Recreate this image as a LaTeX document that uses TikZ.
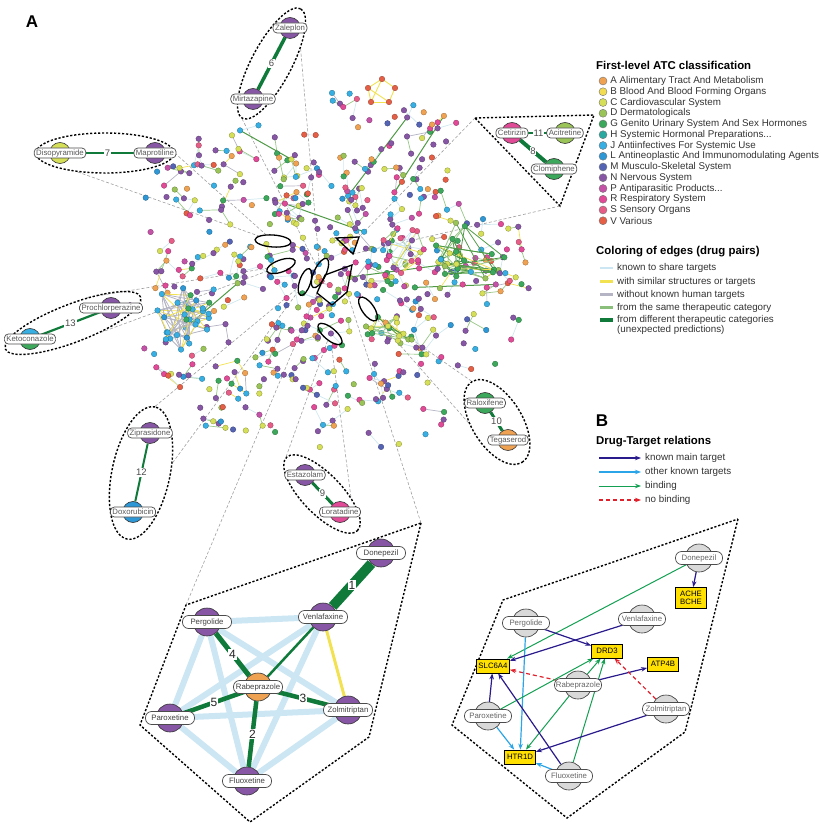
\documentclass[tikz,border=0pt]{standalone}
\usepackage{fontspec}
\setmainfont{Liberation Sans}
\usetikzlibrary{shapes.geometric, arrows.meta, positioning}

% ATC classes
\definecolor{atcA}{HTML}{F0A253}
\definecolor{atcB}{HTML}{F2DC52}
\definecolor{atcC}{HTML}{D6DF58}
\definecolor{atcD}{HTML}{9AC457}
\definecolor{atcG}{HTML}{3CA85B}
\definecolor{atcH}{HTML}{2AA9A1}
\definecolor{atcJ}{HTML}{38AFE2}
\definecolor{atcL}{HTML}{2E98D6}
\definecolor{atcM}{HTML}{5563B5}
\definecolor{atcN}{HTML}{8757A6}
\definecolor{atcP}{HTML}{C453A8}
\definecolor{atcR}{HTML}{E14A97}
\definecolor{atcS}{HTML}{E65E88}
\definecolor{atcV}{HTML}{E55E46}
% edges of drug pairs
\definecolor{ecyan}{HTML}{CFE8EE}
\definecolor{eshare}{HTML}{CCE6F3}
\definecolor{eyellow}{HTML}{F2E150}
\definecolor{egray}{HTML}{B4B4C4}
\definecolor{egreen}{HTML}{98C887}
\definecolor{edkgreen}{HTML}{4F9A45}
\definecolor{pairgreen}{HTML}{0F7A3A}
% drug-target relations
\definecolor{knavy}{HTML}{2A1B8C}
\definecolor{kblue}{HTML}{2BA5E8}
\definecolor{kgreen}{HTML}{13A052}
\definecolor{kred}{HTML}{E0202B}
\definecolor{tgold}{HTML}{FFE000}
\definecolor{dgray}{HTML}{D9D9D9}

\pgfdeclarelayer{bg}
\pgfsetlayers{bg,main}

\tikzset{
    panel/.style={font=\bfseries\fontsize{17}{17}\selectfont, inner sep=0pt},
    netdot/.style={fill=#1, draw=#1!65!black, line width=0.3pt},
    cdrug/.style={circle, draw=black!80, line width=0.6pt, minimum size=21pt, inner sep=0pt, fill=#1},
    idrug/.style={circle, draw=black!80, line width=0.6pt, minimum size=28pt, inner sep=0pt, fill=#1},
    cpill/.style={rounded corners=4pt, draw=black!70, fill=white, line width=0.7pt,
        font=\fontsize{7.8}{8}\selectfont, text=black!65, inner xsep=2pt, inner ysep=0pt, minimum height=10pt},
    ipill/.style={cpill, rounded corners=6pt, minimum width=49pt, inner xsep=1pt, minimum height=13pt, text=black!75},
    target/.style={draw=black, fill=tgold, line width=0.8pt, font=\fontsize{7.8}{8.5}\selectfont,
        inner xsep=1.5pt, inner ysep=1.5pt, align=center, minimum width=31pt, minimum height=14pt},
    callout/.style={draw=black, line width=1.4pt, dash pattern=on 2.2pt off 1.8pt, inner sep=0pt},
    spot/.style={draw=black, line width=1.3pt, inner sep=0pt},
    leader/.style={draw=black!38, line width=0.6pt, dash pattern=on 3pt off 2pt},
    pairedge/.style={draw=pairgreen, line width=#1},
    ishare/.style={draw=eshare, line width=6pt},
    elabel/.style={fill=white, inner sep=0.8pt, font=\fontsize{9.5}{9.5}\selectfont, text=black!70},
    ilabel/.style={fill=white, inner sep=1pt, font=\fontsize{12}{12}\selectfont, text=black!85},
    kmain/.style={-{Stealth[length=6pt,width=4.5pt]}, draw=knavy, line width=1.2pt},
    kother/.style={kmain, draw=kblue},
    kbind/.style={kmain, draw=kgreen, line width=1pt},
    knone/.style={kmain, draw=kred, dash pattern=on 4pt off 3pt},
    legdot/.style={circle, draw=black!55, line width=0.4pt, minimum size=8pt, inner sep=0pt},
    legtext/.style={font=\fontsize{9.8}{10}\selectfont, text=black!80, inner sep=0pt, anchor=west, align=left},
    legtitle/.style={font=\bfseries\fontsize{11.4}{12}\selectfont, inner sep=0pt, anchor=west},
}

% a tight group of drugs: name, cx, cy, rx, ry, dots, edges, dot colours (6), edge colours (4)
\newcommand{\drugcluster}[9]{%
  \foreach \i in {1,...,#6}{%
    \pgfmathsetmacro\ang{360*rnd}%
    \pgfmathsetmacro\rr{sqrt(rnd)}%
    \coordinate (#1\i) at ({#2+#4*\rr*cos(\ang)},{#3+#5*\rr*sin(\ang)});%
  }%
  \foreach \i in {1,...,#7}{%
    \pgfmathtruncatemacro\ia{random(1,#6)}%
    \pgfmathtruncatemacro\ib{random(1,#6)}%
    \pgfmathtruncatemacro\ki{random(0,3)}%
    \pgfmathsetmacro\ec{{#9}[\ki]}%
    \draw[color=\ec, line width=0.8pt] (#1\ia) -- (#1\ib);%
  }%
  \foreach \i in {1,...,#6}{%
    \pgfmathtruncatemacro\ki{random(0,5)}%
    \pgfmathsetmacro\dc{{#8}[\ki]}%
    \filldraw[netdot=\dc] (#1\i) circle (2.8);%
  }%
}

\begin{document}
\begin{tikzpicture}[x=1pt, y=-1pt]
\useasboundingbox (0,0) rectangle (827,826);
\pgfmathsetseed{271}

\node[panel] (labA) at (32,22) {A};
\node[panel] (labB) at (602,421) {B};

% Network of drug pairs: edges first, dots after
\xdef\ndots{0}
\xdef\lastx{330}
\xdef\lasty{272}
\foreach \i in {1,...,640}{
  \pgfmathtruncatemacro\chain{(rnd<0.45)&&(\ndots>0) ? 1 : 0}
  \pgfmathtruncatemacro\longstep{rnd<0.04 ? 1 : 0}
  \pgfmathsetmacro\ang{360*rnd}
  \ifnum\chain=1
    \ifnum\longstep=1
      \pgfmathsetmacro\steplen{45+70*rnd}
    \else
      \pgfmathsetmacro\steplen{10+14*rnd}
    \fi
    \pgfmathsetmacro\px{\lastx+\steplen*cos(\ang)}
    \pgfmathsetmacro\py{\lasty+\steplen*sin(\ang)}
  \else
    \pgfmathsetmacro\rr{rnd^0.68}
    \pgfmathsetmacro\px{330+205*\rr*cos(\ang)}
    \pgfmathsetmacro\py{272+192*\rr*sin(\ang)}
  \fi
  \pgfmathtruncatemacro\ok{((((\px-330)/208)^2+((\py-272)/196)^2)<1) && !((\px>462)&&(\py<218)) && !((\px<312)&&(\py<122)) && !((\px>278)&&(\px<368)&&(\py>450)) && !((\px>452)&&(\py>372)) ? 1 : 0}
  \ifnum\ok=1
    \pgfmathtruncatemacro\nd{\ndots+1}
    \xdef\ndots{\nd}
    \coordinate (d\nd) at (\px,\py);
    \ifnum\chain=1
      \pgfmathtruncatemacro\prevd{\nd-1}
      \pgfmathtruncatemacro\ki{random(0,9)}
      \pgfmathsetmacro\ec{{"ecyan","ecyan","ecyan","ecyan","egreen","egreen","egreen","eyellow","egray","ecyan"}[\ki]}
      \def\ew{0.7pt}
      \ifnum\longstep=1 \def\ec{edkgreen}\def\ew{1pt}\fi
      \draw[color=\ec, line width=\ew] (d\prevd) -- (d\nd);
    \fi
    \pgfmathtruncatemacro\ki{random(0,23)}
    \pgfmathsetmacro\dc{{"atcN","atcN","atcN","atcN","atcN","atcN","atcC","atcC","atcC","atcJ","atcJ","atcJ","atcA","atcA","atcG","atcG","atcR","atcR","atcL","atcM","atcS","atcD","atcP","atcV"}[\ki]}
    \expandafter\xdef\csname dcol\nd\endcsname{\dc}
    \xdef\lastx{\px}
    \xdef\lasty{\py}
  \fi
}
\foreach \i in {1,...,\ndots}{
  \edef\dc{\csname dcol\i\endcsname}
  \filldraw[netdot=\dc] (d\i) circle (2.8);
}

\drugcluster{bc}{181}{318}{36}{32}{28}{80}{"atcJ","atcJ","atcJ","atcL","atcJ","atcG"}{"egray","egray","egray","eyellow"}
\drugcluster{gc}{470}{252}{38}{32}{22}{50}{"atcG","atcG","atcD","atcC","atcG","atcJ"}{"edkgreen","egreen","eyellow","edkgreen"}
\drugcluster{pc}{408}{250}{28}{28}{18}{25}{"atcR","atcS","atcP","atcR","atcN","atcC"}{"ecyan","ecyan","eyellow","egreen"}
\drugcluster{lc}{385}{335}{28}{20}{14}{25}{"atcC","atcG","atcC","atcD","atcG","atcA"}{"edkgreen","egreen","eyellow","egreen"}

% small ring of V drugs at the top
\foreach \n/\x/\y in {1/382/79, 2/368/88, 3/395/88, 4/389/102, 5/371/102}
  \coordinate (tp\n) at (\x,\y);
\foreach \ia/\ib in {1/2, 2/5, 5/4, 4/3, 3/1, 2/4, 1/5}
  \draw[color=eyellow, line width=0.9pt] (tp\ia) -- (tp\ib);
\foreach \n in {1,...,5}
  \filldraw[netdot=atcV] (tp\n) circle (2.8);

% Spots marking the predicted pairs
\node[spot, ellipse, minimum width=36pt, minimum height=12pt, rotate=-4] (s7) at (273,241) {};
\node[spot, ellipse, minimum width=30pt, minimum height=12pt, rotate=20] (s13) at (281,266) {};
\node[spot, ellipse, minimum width=28pt, minimum height=11pt, rotate=72] (s12) at (305,282) {};
\node[spot, ellipse, minimum width=32pt, minimum height=12pt, rotate=65] (s6) at (320,273) {};
\node[spot, ellipse, minimum width=28pt, minimum height=12pt, rotate=-55] (s10) at (368,309) {};
\node[spot, ellipse, minimum width=30pt, minimum height=12pt, rotate=-40] (s9) at (330,334) {};
\coordinate (s11a) at (336,238);
\coordinate (s11b) at (359,237);
\coordinate (s11c) at (353,254);
\draw[spot] (s11a) -- (s11b) -- (s11c) -- cycle;
\coordinate (s1a) at (325,275);
\coordinate (s1b) at (352,265);
\coordinate (s1c) at (347,292);
\coordinate (s1d) at (332,305);
\coordinate (s1e) at (317,293);
\draw[spot] (s1a) -- (s1b) -- (s1c) -- (s1d) -- (s1e) -- cycle;

% Pair 6
\node[callout, ellipse, minimum width=124pt, minimum height=40pt, rotate=62] (ell6) at (271.5,63.5) {};
\node[cdrug=atcN] (zal) at (290,28) {};
\node[cpill] (zalL) at (zal) {Zaleplon};
\node[cdrug=atcN] (mir) at (253,99) {};
\node[cpill] (mirL) at (mir) {Mirtazapine};

% Pair 7
\node[callout, ellipse, minimum width=138pt, minimum height=40pt] (ell7) at (105,153) {};
\node[cdrug=atcC] (dis) at (60,153) {};
\node[cpill] (disL) at (dis) {Disopyramide};
\node[cdrug=atcN] (map) at (155,153) {};
\node[cpill] (mapL) at (map) {Maprotiline};

% Pair 13
\node[callout, ellipse, minimum width=145pt, minimum height=38pt, rotate=21] (ell13) at (73,323) {};
\node[cdrug=atcN] (pro) at (111,308) {};
\node[cpill] (proL) at (pro) {Prochlorperazine};
\node[cdrug=atcJ, path picture={\fill[atcG] (path picture bounding box.west) rectangle (path picture bounding box.south east);}] (ket) at (30,339) {};
\node[cpill] (ketL) at (ket) {Ketoconazole};

% Pair 12
\node[callout, ellipse, minimum width=135pt, minimum height=58pt, rotate=78] (ell12) at (141,473) {};
\node[cdrug=atcN] (zip) at (150,433) {};
\node[cpill] (zipL) at (zip) {Ziprasidone};
\node[cdrug=atcL] (dox) at (133,512) {};
\node[cpill] (doxL) at (dox) {Doxorubicin};

% Pair 9
\node[callout, ellipse, minimum width=102pt, minimum height=40pt, rotate=-46] (ell9) at (322,494) {};
\node[cdrug=atcN] (est) at (305,475) {};
\node[cpill] (estL) at (est) {Estazolam};
\node[cdrug=atcR] (lor) at (340,512) {};
\node[cpill] (lorL) at (lor) {Loratadine};

% Pair 10
\node[callout, ellipse, minimum width=95pt, minimum height=50pt, rotate=-58] (ell10) at (497,422) {};
\node[cdrug=atcG] (ral) at (485,403) {};
\node[cpill] (ralL) at (ral) {Raloxifene};
\node[cdrug=atcA] (teg) at (508,440) {};
\node[cpill] (tegL) at (teg) {Tegaserod};

% Pairs 11 and 8
\coordinate (cb1) at (475,118);
\coordinate (cb2) at (594,115);
\coordinate (cb3) at (560,206);
\draw[callout] (cb1) -- (cb2) -- (cb3) -- cycle;
\node[cdrug=atcR] (cet) at (512,133) {};
\node[cpill] (cetL) at (cet) {Cetirizin};
\node[cdrug=atcD] (aci) at (565,133) {};
\node[cpill] (aciL) at (aci) {Acitretine};
\node[cdrug=atcG] (clo) at (554,169) {};
\node[cpill] (cloL) at (clo) {Clomiphene};

\begin{pgfonlayer}{bg}
\draw[pairedge=3.5pt] (zal) -- node[elabel] {6} (mir);
\draw[pairedge=2pt] (dis) -- node[elabel] {7} (map);
\draw[pairedge=2.2pt] (pro) -- node[elabel] {13} (ket);
\draw[pairedge=2pt] (zip) -- node[elabel] {12} (dox);
\draw[pairedge=3pt] (est) -- node[elabel] {9} (lor);
\draw[pairedge=3pt] (ral) -- node[elabel] {10} (teg);
\draw[pairedge=2.5pt] (cet) -- node[elabel] {11} (aci);
\draw[pairedge=4pt] (cet) -- node[elabel] {8} (clo);

% leaders from the close-ups to the network
\draw[leader] (ell6.west) -- (s6);
\draw[leader] (ell6.-35) -- (s6);
\draw[leader] (ell7.east) -- (s7);
\draw[leader] (ell7.215) -- (s7);
\draw[leader] (ell13.40) -- (s13);
\draw[leader] (ell13.-40) -- (s13);
\draw[leader] (ell12.east) -- (s12);
\draw[leader] (ell12.-60) -- (s12);
\draw[leader] (ell9.west) -- (s9);
\draw[leader] (ell9.40) -- (s9);
\draw[leader] (ell10.west) -- (s10);
\draw[leader] (ell10.-120) -- (s10);
\draw[leader] (cb1) -- (s11b);
\draw[leader] (cb3) -- (s11c);
\end{pgfonlayer}

% Close-up of pairs 1-5
\coordinate (pa1) at (421,523);
\coordinate (pa2) at (369,737);
\coordinate (pa3) at (250,822);
\coordinate (pa4) at (140,725);
\coordinate (pa5) at (186,605);
\draw[callout] (pa1) -- (pa2) -- (pa3) -- (pa4) -- (pa5) -- cycle;
\begin{pgfonlayer}{bg}
\draw[leader] (pa5) -- (s1e);
\draw[leader] (pa1) -- (s1c);
\end{pgfonlayer}

\node[idrug=atcN] (don) at (381,553) {};
\node[ipill] (donL) at (don) {Donepezil};
\node[idrug=atcN] (ven) at (323,617) {};
\node[ipill] (venL) at (ven) {Venlafaxine};
\node[idrug=atcN] (per) at (207,622) {};
\node[ipill] (perL) at (per) {Pergolide};
\node[idrug=atcA] (rab) at (258,687) {};
\node[ipill] (rabL) at (rab) {Rabeprazole};
\node[idrug=atcN] (zol) at (348,710) {};
\node[ipill] (zolL) at (zol) {Zolmitriptan};
\node[idrug=atcN] (par) at (170,718) {};
\node[ipill] (parL) at (par) {Paroxetine};
\node[idrug=atcN] (flu) at (247,781) {};
\node[ipill] (fluL) at (flu) {Fluoxetine};

\begin{pgfonlayer}{bg}
\foreach \ia/\ib in {per/ven, per/zol, per/par, per/flu, ven/par, ven/flu, par/zol, par/flu, zol/flu}
  \draw[ishare] (\ia) -- (\ib);
\draw[draw=eyellow, line width=3pt] (ven) -- (zol);
\draw[pairedge=2.5pt] (ven) -- (rab);
\draw[pairedge=10pt] (ven) -- node[ilabel] {1} (don);
\draw[pairedge=4.5pt] (rab) -- node[ilabel] {2} (flu);
\draw[pairedge=4.5pt] (rab) -- node[ilabel] {3} (zol);
\draw[pairedge=5pt] (per) -- node[ilabel] {4} (rab);
\draw[pairedge=4.5pt] (rab) -- node[ilabel] {5} (par);
\end{pgfonlayer}

% Panel B: drug-target relations
\coordinate (pb1) at (738,519);
\coordinate (pb2) at (685,732);
\coordinate (pb3) at (567,818);
\coordinate (pb4) at (452,725);
\coordinate (pb5) at (503,600);
\draw[callout] (pb1) -- (pb2) -- (pb3) -- (pb4) -- (pb5) -- cycle;

\node[idrug=dgray] (bdon) at (699,558) {};
\node[ipill, minimum width=47pt, text=black!60] (bdonL) at (bdon) {Donepezil};
\node[idrug=dgray] (bper) at (526,623) {};
\node[ipill, minimum width=47pt, text=black!60] (bperL) at (bper) {Pergolide};
\node[idrug=dgray] (bven) at (642,619) {};
\node[ipill, minimum width=47pt, text=black!60] (bvenL) at (bven) {Venlafaxine};
\node[idrug=dgray] (brab) at (578,685) {};
\node[ipill, minimum width=47pt, text=black!60] (brabL) at (brab) {Rabeprazole};
\node[idrug=dgray] (bpar) at (488,716) {};
\node[ipill, minimum width=47pt, text=black!60] (bparL) at (bpar) {Paroxetine};
\node[idrug=dgray] (bzol) at (666,709) {};
\node[ipill, minimum width=47pt, text=black!60] (bzolL) at (bzol) {Zolmitriptan};
\node[idrug=dgray] (bflu) at (569,776) {};
\node[ipill, minimum width=47pt, text=black!60] (bfluL) at (bflu) {Fluoxetine};

\node[target, minimum height=21pt] (ache) at (691,598) {ACHE\\BCHE};
\node[target] (drd3) at (607,651) {DRD3};
\node[target, minimum width=33pt] (slc) at (493,666) {SLC6A4};
\node[target] (atp) at (663,664) {ATP4B};
\node[target] (htr) at (520,757) {HTR1D};

\begin{pgfonlayer}{bg}
\draw[kmain] (bdon) -- (ache);
\draw[kbind] (bdon) -- (slc);
\draw[kmain] (bper) -- (drd3);
\draw[kother] (bper) -- (htr);
\draw[kmain] (bven) -- (slc);
\draw[knone] (brab) -- (slc);
\draw[kmain] (brab) -- (atp);
\draw[kbind] (brab) -- (drd3);
\draw[kbind] (brab) -- (htr);
\draw[kbind] (bpar) -- (drd3);
\draw[kmain] (bpar) -- (slc);
\draw[kother] (bpar) -- (htr);
\draw[kmain] (bflu) -- (slc);
\draw[kbind] (bflu) -- (drd3);
\draw[kother] (bflu) -- (htr);
\draw[knone] (bzol) -- (drd3);
\draw[kmain] (bzol) -- (htr);
\end{pgfonlayer}

% Legends
\node[legtitle] (atcT) at (596,65) {First-level ATC classification};
\foreach \cl/\tx [count=\n from 0] in {atcA/{A Alimentary Tract And Metabolism},
    atcB/{B Blood And Blood Forming Organs}, atcC/{C Cardiovascular System},
    atcD/{D Dermatologicals}, atcG/{G Genito Urinary System And Sex Hormones},
    atcH/{H Systemic Hormonal Preparations...}, atcJ/{J Antiinfectives For Systemic Use},
    atcL/{L Antineoplastic And Immunomodulating Agents}, atcM/{M Musculo-Skeletal System},
    atcN/{N Nervous System}, atcP/{P Antiparasitic Products...}, atcR/{R Respiratory System},
    atcS/{S Sensory Organs}, atcV/{V Various}}{
  \node[legdot, fill=\cl] (atc\n) at (603,{81+10.75*\n}) {};
  \node[legtext, right=3pt of atc\n] {\tx};
}

\node[legtitle] (edgeT) at (596,252) {Coloring of edges (drug pairs)};
\foreach \cl/\w/\y/\tx in {eshare/2.5pt/268/known to share targets,
    eyellow/2.5pt/281.5/with similar structures or targets,
    egray/2.5pt/294.5/without known human targets,
    egreen!80!edkgreen/2.5pt/307.5/from the same therapeutic category}{
  \draw[draw=\cl, line width=\w] (600,\y) -- (613,\y);
  \node[legtext] at (617,\y) {\tx};
}
\draw[draw=pairgreen, line width=3.5pt] (600,320) -- (613,320);
\node[legtext] (edgeL) at (617,325) {from different therapeutic categories\\(unexpected predictions)};

\node[legtitle] (relT) at (596,442) {Drug-Target relations};
\draw[kmain] (599,458) -- (641,458);
\node[legtext] at (645,458) {known main target};
\draw[kother] (599,472) -- (641,472);
\node[legtext] at (645,472) {other known targets};
\draw[kbind] (599,486) -- (641,486);
\node[legtext] at (645,486) {binding};
\draw[knone] (599,500) -- (641,500);
\node[legtext] at (645,500) {no binding};

\end{tikzpicture}
\end{document}
